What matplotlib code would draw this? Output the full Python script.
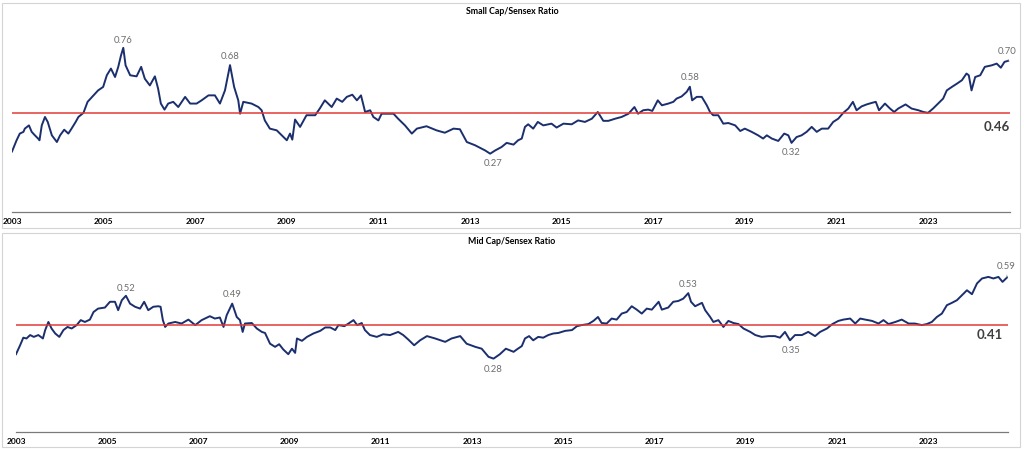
import matplotlib
matplotlib.use("Agg")
from matplotlib import pyplot as plt
from matplotlib.patches import Rectangle

# Small Cap / Sensex ratio (decimal years)
small_years = [
    2003.00, 2003.10, 2003.17, 2003.25, 2003.28, 2003.37, 2003.43, 2003.50, 2003.57, 2003.60,
    2003.65, 2003.72, 2003.78, 2003.87, 2003.98, 2004.05, 2004.14, 2004.23, 2004.30, 2004.39,
    2004.45, 2004.56, 2004.65, 2004.78, 2004.88, 2004.99, 2005.07, 2005.16, 2005.25, 2005.32,
    2005.38, 2005.43, 2005.48, 2005.58, 2005.72, 2005.82, 2005.90, 2006.01, 2006.12, 2006.19,
    2006.25, 2006.33, 2006.41, 2006.52, 2006.63, 2006.78, 2006.89, 2007.03, 2007.14, 2007.29,
    2007.43, 2007.54, 2007.65, 2007.76, 2007.85, 2007.94, 2007.98, 2008.05, 2008.23, 2008.38,
    2008.45, 2008.52, 2008.63, 2008.78, 2008.89, 2009.00, 2009.07, 2009.12, 2009.18, 2009.29,
    2009.43, 2009.62, 2009.72, 2009.83, 2009.98, 2010.09, 2010.21, 2010.31, 2010.43, 2010.53,
    2010.62, 2010.71, 2010.82, 2010.89, 2011.00, 2011.07, 2011.22, 2011.33, 2011.43, 2011.58,
    2011.73, 2011.84, 2012.05, 2012.27, 2012.45, 2012.64, 2012.78, 2012.93, 2013.11, 2013.33,
    2013.44, 2013.55, 2013.69, 2013.80, 2013.95, 2014.05, 2014.13, 2014.20, 2014.27, 2014.38,
    2014.48, 2014.60, 2014.78, 2014.89, 2015.04, 2015.22, 2015.36, 2015.51, 2015.66, 2015.79,
    2015.91, 2016.02, 2016.17, 2016.31, 2016.46, 2016.59, 2016.67, 2016.78, 2016.89, 2016.98,
    2017.10, 2017.19, 2017.33, 2017.44, 2017.51, 2017.62, 2017.73, 2017.80, 2017.85, 2017.95,
    2018.06, 2018.17, 2018.24, 2018.31, 2018.42, 2018.53, 2018.64, 2018.79, 2018.90, 2019.00,
    2019.15, 2019.29, 2019.40, 2019.48, 2019.59, 2019.73, 2019.86, 2019.95, 2020.02, 2020.13,
    2020.24, 2020.35, 2020.46, 2020.57, 2020.68, 2020.82, 2020.93, 2021.04, 2021.15, 2021.26,
    2021.36, 2021.44, 2021.55, 2021.66, 2021.77, 2021.86, 2021.93, 2022.06, 2022.17, 2022.26,
    2022.35, 2022.51, 2022.64, 2022.79, 2022.90, 2023.00, 2023.11, 2023.22, 2023.33, 2023.41,
    2023.52, 2023.63, 2023.74, 2023.84, 2023.89, 2023.95, 2024.03, 2024.14, 2024.24, 2024.39,
    2024.50, 2024.59, 2024.67, 2024.75,
]
small_ratio = [
    0.280, 0.332, 0.363, 0.371, 0.386, 0.401, 0.371, 0.355, 0.340, 0.332,
    0.401, 0.440, 0.417, 0.355, 0.324, 0.355, 0.381, 0.363, 0.386, 0.417,
    0.440, 0.459, 0.510, 0.540, 0.563, 0.579, 0.633, 0.664, 0.625, 0.672,
    0.725, 0.760, 0.679, 0.633, 0.628, 0.672, 0.617, 0.586, 0.628, 0.571,
    0.502, 0.474, 0.502, 0.510, 0.486, 0.533, 0.502, 0.502, 0.517, 0.540,
    0.540, 0.502, 0.563, 0.680, 0.579, 0.517, 0.455, 0.510, 0.502, 0.486,
    0.471, 0.424, 0.386, 0.378, 0.355, 0.332, 0.363, 0.335, 0.428, 0.394,
    0.448, 0.448, 0.479, 0.517, 0.486, 0.525, 0.510, 0.533, 0.543, 0.517,
    0.540, 0.463, 0.471, 0.440, 0.424, 0.455, 0.455, 0.455, 0.432, 0.401,
    0.363, 0.386, 0.397, 0.378, 0.367, 0.386, 0.383, 0.324, 0.309, 0.285,
    0.270, 0.285, 0.301, 0.320, 0.312, 0.332, 0.340, 0.394, 0.406, 0.386,
    0.417, 0.401, 0.409, 0.391, 0.409, 0.406, 0.424, 0.417, 0.432, 0.463,
    0.422, 0.422, 0.432, 0.440, 0.455, 0.486, 0.455, 0.471, 0.474, 0.468,
    0.517, 0.494, 0.502, 0.510, 0.525, 0.535, 0.556, 0.580, 0.517, 0.533,
    0.533, 0.494, 0.463, 0.448, 0.448, 0.409, 0.412, 0.401, 0.375, 0.386,
    0.371, 0.355, 0.340, 0.355, 0.340, 0.329, 0.363, 0.355, 0.320, 0.347,
    0.355, 0.371, 0.394, 0.371, 0.386, 0.386, 0.417, 0.432, 0.459, 0.479,
    0.510, 0.471, 0.489, 0.498, 0.505, 0.510, 0.471, 0.502, 0.479, 0.463,
    0.479, 0.498, 0.479, 0.471, 0.463, 0.459, 0.479, 0.502, 0.525, 0.563,
    0.579, 0.594, 0.610, 0.641, 0.633, 0.563, 0.625, 0.633, 0.672, 0.679,
    0.687, 0.668, 0.695, 0.700,
]
small_avg = 0.46
small_marks_years = [2005.43, 2007.76, 2013.44, 2017.80, 2020.02, 2024.75]
small_marks_vals = [0.76, 0.68, 0.27, 0.58, 0.32, 0.70]

# Mid Cap / Sensex ratio
mid_years = [
    2003.00, 2003.09, 2003.16, 2003.23, 2003.31, 2003.39, 2003.49, 2003.59, 2003.64, 2003.71,
    2003.78, 2003.86, 2003.95, 2004.04, 2004.13, 2004.22, 2004.33, 2004.42, 2004.51, 2004.62,
    2004.70, 2004.80, 2004.95, 2005.06, 2005.17, 2005.24, 2005.32, 2005.41, 2005.50, 2005.61,
    2005.72, 2005.81, 2005.90, 2006.01, 2006.12, 2006.17, 2006.22, 2006.27, 2006.34, 2006.49,
    2006.63, 2006.78, 2006.93, 2007.07, 2007.25, 2007.36, 2007.47, 2007.55, 2007.62, 2007.74,
    2007.84, 2007.91, 2007.97, 2008.02, 2008.17, 2008.28, 2008.39, 2008.46, 2008.57, 2008.68,
    2008.77, 2008.86, 2008.97, 2009.05, 2009.12, 2009.16, 2009.27, 2009.38, 2009.52, 2009.67,
    2009.78, 2009.89, 2010.00, 2010.07, 2010.20, 2010.29, 2010.40, 2010.48, 2010.58, 2010.65,
    2010.76, 2010.91, 2011.05, 2011.20, 2011.38, 2011.49, 2011.60, 2011.73, 2011.86, 2012.01,
    2012.19, 2012.41, 2012.55, 2012.74, 2012.88, 2013.07, 2013.21, 2013.36, 2013.47, 2013.61,
    2013.74, 2013.91, 2013.98, 2014.09, 2014.16, 2014.25, 2014.34, 2014.45, 2014.56, 2014.67,
    2014.78, 2014.89, 2015.04, 2015.19, 2015.30, 2015.40, 2015.55, 2015.66, 2015.76, 2015.84,
    2015.95, 2016.06, 2016.17, 2016.28, 2016.39, 2016.50, 2016.61, 2016.72, 2016.83, 2016.94,
    2017.09, 2017.16, 2017.30, 2017.41, 2017.52, 2017.63, 2017.74, 2017.80, 2017.89, 2018.04,
    2018.11, 2018.22, 2018.29, 2018.40, 2018.51, 2018.62, 2018.73, 2018.84, 2018.95, 2019.10,
    2019.21, 2019.35, 2019.50, 2019.64, 2019.75, 2019.86, 2019.97, 2020.08, 2020.23, 2020.37,
    2020.52, 2020.63, 2020.78, 2020.90, 2021.03, 2021.14, 2021.29, 2021.40, 2021.51, 2021.62,
    2021.77, 2021.91, 2022.02, 2022.13, 2022.28, 2022.42, 2022.57, 2022.71, 2022.86, 2022.97,
    2023.08, 2023.19, 2023.30, 2023.41, 2023.52, 2023.63, 2023.74, 2023.85, 2023.96, 2024.07,
    2024.18, 2024.32, 2024.43, 2024.54, 2024.63, 2024.73,
]
mid_ratio = [
    0.297, 0.331, 0.360, 0.357, 0.370, 0.363, 0.370, 0.357, 0.389, 0.420,
    0.395, 0.376, 0.363, 0.389, 0.401, 0.395, 0.408, 0.427, 0.420, 0.429,
    0.458, 0.471, 0.475, 0.497, 0.497, 0.465, 0.503, 0.520, 0.490, 0.478,
    0.471, 0.497, 0.465, 0.478, 0.480, 0.478, 0.427, 0.401, 0.414, 0.420,
    0.414, 0.429, 0.408, 0.427, 0.442, 0.433, 0.437, 0.401, 0.446, 0.490,
    0.439, 0.427, 0.382, 0.414, 0.416, 0.395, 0.382, 0.378, 0.337, 0.325,
    0.335, 0.315, 0.297, 0.318, 0.302, 0.357, 0.348, 0.363, 0.376, 0.386,
    0.399, 0.399, 0.389, 0.408, 0.404, 0.414, 0.427, 0.408, 0.416, 0.389,
    0.370, 0.363, 0.373, 0.370, 0.382, 0.370, 0.353, 0.331, 0.350, 0.366,
    0.357, 0.344, 0.357, 0.366, 0.337, 0.325, 0.318, 0.287, 0.280, 0.297,
    0.318, 0.306, 0.315, 0.328, 0.357, 0.366, 0.350, 0.363, 0.360, 0.370,
    0.376, 0.378, 0.386, 0.389, 0.404, 0.408, 0.412, 0.424, 0.439, 0.416,
    0.414, 0.433, 0.429, 0.452, 0.458, 0.480, 0.467, 0.452, 0.471, 0.467,
    0.497, 0.467, 0.475, 0.497, 0.500, 0.509, 0.530, 0.497, 0.480, 0.493,
    0.465, 0.439, 0.420, 0.427, 0.401, 0.424, 0.416, 0.412, 0.395, 0.382,
    0.370, 0.363, 0.366, 0.366, 0.360, 0.382, 0.350, 0.370, 0.370, 0.382,
    0.366, 0.382, 0.395, 0.412, 0.424, 0.429, 0.433, 0.414, 0.433, 0.429,
    0.424, 0.414, 0.427, 0.412, 0.420, 0.429, 0.414, 0.414, 0.408, 0.412,
    0.420, 0.439, 0.452, 0.484, 0.493, 0.503, 0.522, 0.541, 0.526, 0.567,
    0.586, 0.592, 0.586, 0.592, 0.573, 0.590,
]
mid_avg = 0.41
mid_marks_years = [2005.41, 2007.74, 2013.47, 2017.74, 2019.97, 2024.73]
mid_marks_vals = [0.52, 0.49, 0.28, 0.53, 0.35, 0.59]

year_ticks = [2003, 2005, 2007, 2009, 2011, 2013, 2015, 2017, 2019, 2021, 2023]

LINE = "#1b2f6e"
RED = "#e03a36"
GREY_TXT = "#6e6e6e"
W, H = 1024, 449

plt.rcParams["font.family"] = ["Lato", "DejaVu Sans"]

fig = plt.figure(figsize=(W / 100, H / 100), dpi=100)


def px_axes(x0, x1, y_zero, y_top):
    """Axes placed by pixel edges (y measured from the top)."""
    return fig.add_axes([x0 / W, 1 - y_zero / H, (x1 - x0) / W, (y_zero - y_top) / H])


def panel(ax, years, ratio, avg, mk_years, mk_vals, mk_offsets, avg_offset, xmax, ymax):
    ax.plot(years, ratio, color=LINE, lw=1.4, solid_joinstyle="round")
    ax.axhline(avg, color=RED, lw=1.1)
    ax.set_xlim(2003, xmax)
    ax.set_ylim(0, ymax)
    for s in ("top", "right", "left"):
        ax.spines[s].set_visible(False)
    ax.spines["bottom"].set_color("#7a7a7a")
    ax.spines["bottom"].set_linewidth(0.9)
    ax.set_yticks([])
    ax.set_xticks(year_ticks)
    ax.set_xticklabels([str(y) for y in year_ticks], fontsize=6, fontweight="bold")
    ax.tick_params(axis="x", length=0, pad=4.5)
    ax.patch.set_alpha(0)
    last = len(mk_years) - 1
    for i, (x, v, off) in enumerate(zip(mk_years, mk_vals, mk_offsets)):
        kw = {}
        if i == last:
            kw["arrowprops"] = dict(arrowstyle="-", color="#9a9a9a", lw=0.5, shrinkA=1, shrinkB=0)
        ax.annotate(f"{v:.2f}", (x, v), xytext=off, textcoords="offset points",
                    ha="center", va="center", fontsize=6.8, color=GREY_TXT, **kw)
    ax.annotate(f"{avg:.2f}", (xmax, avg), xytext=avg_offset, textcoords="offset points",
                ha="right", va="center", fontsize=9.5, fontweight="bold", color="#3f3f3f")


# panel frames
for top, bot in [(3, 228), (233, 447)]:
    fig.patches.append(Rectangle((2 / W, 1 - bot / H), 1018 / W, (bot - top) / H,
                                 transform=fig.transFigure, fill=False,
                                 edgecolor="#d4d4d4", lw=0.8))

ax1 = px_axes(12, 1010, 212, 17.6)
panel(ax1, small_years, small_ratio, small_avg, small_marks_years, small_marks_vals,
      [(0, 5.5), (0, 6.5), (2, -7), (0, 6.5), (0, -7), (-1, 7)], (0, -10),
      2024.79, 0.9)

ax2 = px_axes(16, 1008, 432, 235.5)
panel(ax2, mid_years, mid_ratio, mid_avg, mid_marks_years, mid_marks_vals,
      [(0, 5.5), (0, 6.5), (0, -8), (0, 6), (1, -7), (-1, 8)], (-4, -7.5),
      2024.75, 0.75)

fig.text(0.5, 1 - 11 / H, "Small Cap/Sensex Ratio", ha="center", va="center",
         fontsize=6.3, fontweight="bold")
fig.text(0.5, 1 - 242 / H, "Mid Cap/Sensex Ratio", ha="center", va="center",
         fontsize=6.3, fontweight="bold")

fig.savefig("out.png", dpi=100, facecolor="white")
